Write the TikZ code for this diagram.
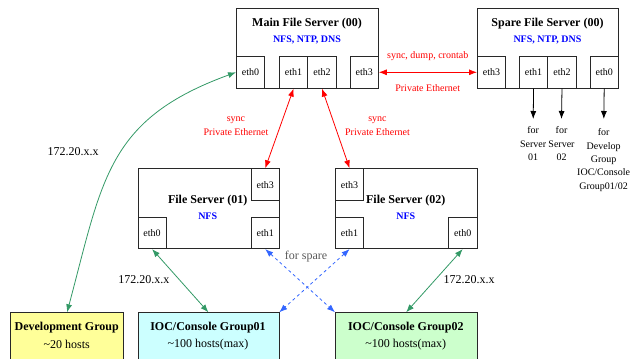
\documentclass[tikz,border=0pt]{standalone}
\usepackage{fontspec}
\setmainfont{Liberation Serif}
\usetikzlibrary{arrows.meta,calc}
\definecolor{lnk}{RGB}{51,153,102}
\definecolor{spr}{RGB}{51,102,255}
\definecolor{fyel}{RGB}{255,255,153}
\definecolor{fcy}{RGB}{204,255,255}
\definecolor{fgr}{RGB}{204,255,204}
\definecolor{bdr}{RGB}{40,40,40}
\begin{document}
\begin{tikzpicture}[x=1pt,y=-1pt,
  box/.style={draw=bdr, line width=0.8pt, inner sep=0pt, anchor=north west},
  port/.style={draw=bdr, line width=0.8pt, inner sep=0pt, anchor=north west,
    minimum width=28.4pt, minimum height=31.8pt, font=\fontsize{10}{12}\selectfont},
  ttl/.style={font=\fontsize{12}{14}\selectfont\bfseries, inner sep=0pt},
  sub/.style={font=\fontsize{10}{12}\selectfont\bfseries, text=blue, inner sep=0pt},
  txt/.style={font=\fontsize{12}{14}\selectfont, inner sep=0pt},
  small/.style={font=\fontsize{10}{13.4}\selectfont, inner sep=0pt, align=center},
  redarr/.style={draw=red, line width=0.8pt, {Latex[length=8pt,width=6pt]}-{Latex[length=8pt,width=6pt]}},
  grnarr/.style={draw=lnk, line width=0.8pt, {Latex[length=8pt,width=6pt]}-{Latex[length=8pt,width=6pt]}},
  bluarr/.style={draw=spr, line width=0.8pt, dashed, {Latex[length=8pt,width=6pt]}-{Latex[length=8pt,width=6pt]}},
  blkarr/.style={draw=black, line width=0.8pt, -{Latex[length=8pt,width=6pt]}}
]
\useasboundingbox (0,0) rectangle (630,359);
\clip (0,0) rectangle (630,359);

% main file server
\node[box, minimum width=142pt, minimum height=80.5pt] (main) at (236,7.5) {};
\node[ttl] (maint) at (307,23.3) {Main File Server (00)};
\node[sub] (mains) at (307,40) {NFS, NTP, DNS};
\node[port] (m0) at (236,56) {eth0};
\node[port] (m1) at (279,56) {eth1};
\node[port] (m2) at (307.4,56) {eth2};
\node[port] (m3) at (349.6,56) {eth3};

% spare file server
\node[box, minimum width=141pt, minimum height=80.5pt] (spare) at (477,7.5) {};
\node[ttl] (sparet) at (547.5,23.3) {Spare File Server (00)};
\node[sub] (spares) at (547.5,40) {NFS, NTP, DNS};
\node[port] (s3) at (477,56) {eth3};
\node[port] (s1) at (519,56) {eth1};
\node[port] (s2) at (547.4,56) {eth2};
\node[port] (s0) at (589.6,56) {eth0};

% file server 01
\node[box, minimum width=141pt, minimum height=80pt] (fs1) at (137.5,168.3) {};
\node[ttl] (fs1t) at (207.7,200.7) {File Server (01)};
\node[sub] (fs1s) at (207.7,216.5) {NFS};
\node[port] (f1e3) at (250.6,168.3) {eth3};
\node[port, minimum height=31.6pt] (f1e0) at (137.5,216.7) {eth0};
\node[port, minimum height=31.6pt] (f1e1) at (250.6,216.7) {eth1};

% file server 02
\node[box, minimum width=141.5pt, minimum height=80pt] (fs2) at (335,168.3) {};
\node[ttl] (fs2t) at (405.8,200.7) {File Server (02)};
\node[sub] (fs2s) at (405.8,216.5) {NFS};
\node[port] (f2e3) at (335,168.3) {eth3};
\node[port, minimum height=31.6pt] (f2e1) at (335,216.7) {eth1};
\node[port, minimum height=31.6pt] (f2e0) at (448.1,216.7) {eth0};

% groups
\node[box, fill=fyel, minimum width=113.3pt, minimum height=60pt] (dev) at (10,312.3) {};
\node[ttl] (devt) at (66.7,328) {Development Group};
\node[txt] (devs) at (66.7,344.3) {\textasciitilde20 hosts};
\node[box, fill=fcy, minimum width=141pt, minimum height=60pt] (ioc1) at (137.5,312.3) {};
\node[ttl] (ioc1t) at (208,328) {IOC/Console Group01};
\node[txt] (ioc1s) at (208,344.3) {\textasciitilde100 hosts(max)};
\node[box, fill=fgr, minimum width=141.5pt, minimum height=60pt] (ioc2) at (335,312.3) {};
\node[ttl] (ioc2t) at (405.8,328) {IOC/Console Group02};
\node[txt] (ioc2s) at (405.8,344.3) {\textasciitilde100 hosts(max)};

% red private ethernet links
\draw[redarr] (m3.east) -- (s3.west);
\node[small, text=red] (l1) at (427.7,56) {sync, dump, crontab};
\node[small, text=red] (l2) at (427.7,87.7) {Private Ethernet};
\draw[redarr] (m1.south) -- (f1e3.north);
\draw[redarr] (m2.south) -- (f2e3.north);
\node[small, text=red] (l3) at (236,126) {sync\\Private Ethernet};
\node[small, text=red] (l4) at (377.5,126) {sync\\Private Ethernet};

% spare outputs
\coordinate (c1) at (533.2,119);
\coordinate (c2) at (561.5,119);
\coordinate (c3) at (603.8,119);
\draw[blkarr] (s1.south) -- (c1);
\draw[blkarr] (s2.south) -- (c2);
\draw[blkarr] (s0.south) -- (c3);
\node[small] (o1) at (533.2,143.6) {for\\Server\\01};
\node[small] (o2) at (561.5,143.6) {for\\Server\\02};
\node[small] (o3) at (603.6,160) {for\\Develop\\Group\\IOC/Console\\Group01/02};

% green 172.20 links
\draw[grnarr] (dev.north) to[out=75,in=200,looseness=1.2] (m0.west);
\draw[grnarr] (f1e0.south) -- (ioc1.north);
\draw[grnarr] (f2e0.south) -- (ioc2.north);
\node[txt] (n1) at (73,152) {172.20.x.x};
\node[txt] (n2) at (143.8,280) {172.20.x.x};
\node[txt] (n3) at (469,280) {172.20.x.x};

% spare cross links
\draw[bluarr] (f1e1.south) -- (ioc2.north west);
\draw[bluarr] (f2e1.south) -- (ioc1.north east);
\node[txt, text=black!65] (fs) at (306,256.7) {for spare};
\end{tikzpicture}
\end{document}
